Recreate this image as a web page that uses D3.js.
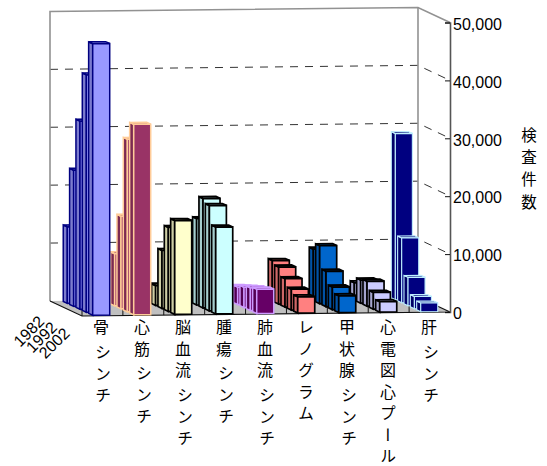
<!DOCTYPE html>
<html lang="ja">
<head>
<meta charset="utf-8">
<script src="https://cdnjs.cloudflare.com/ajax/libs/d3/7.8.5/d3.min.js"></script>
<style>
  html, body { margin: 0; padding: 0; background: #fff; }
  svg { display: block; }
  .num { font-family: "Liberation Sans", Arial, sans-serif; fill: #000; }
  .jp { font-family: "Noto Sans CJK JP", sans-serif; fill: #000; writing-mode: vertical-rl; }
</style>
</head>
<body>
<svg id="chart" width="547" height="466"></svg>
<script>
// Nuclear medicine examination counts by test type and survey year
const categories = ["骨シンチ", "心筋シンチ", "脳血流シンチ", "腫瘍シンチ", "肺血流シンチ", "レノグラム", "甲状腺シンチ", "心電図心プール", "肝シンチ"];
const years = ["1982", "1987", "1992", "1997", "2002"];
const labelledYears = ["1982", "1992", "2002"];
const yTicks = [0, 10000, 20000, 30000, 40000, 50000];
const axisTitle = "検査件数";

const counts1982 = [13200, 3500, 3000, 10400, 2600, 7000, 8900, 3000, 28700];
const counts1987 = [23500, 9000, 3400, 14900, 3000, 6400, 10000, 4000, 11200];
const counts1992 = [32500, 16000, 10000, 18900, 3500, 4900, 6100, 4300, 4900];
const counts1997 = [41000, 29800, 14500, 18200, 3900, 3600, 3900, 2900, 2100];
const counts2002 = [46900, 32900, 16200, 15000, 4200, 2800, 2900, 1800, 1500];
const seriesValues = [counts1982, counts1987, counts1992, counts1997, counts2002];

const fills = ["#9999FF", "#993366", "#FFFFCC", "#CCFFFF", "#660066", "#FF8080", "#0066CC", "#CCCCFF", "#000080"];
const strokes = ["#000080", "#FFCC99", "#000000", "#000000", "#CC99FF", "#000000", "#000000", "#000000", "#BFEFFF"];
const strokeWidths = [1.5, 1.5, 1.7, 1.7, 1.5, 1.7, 1.7, 1.7, 1.1];

const svg = d3.select("#chart");

// Oblique projection: a point is given by its front-plane x, depth and value
const x = d3.scaleBand().domain(categories).range([82, 451]).paddingInner(0.585).paddingOuter(0.292);
const xEdge = d3.scaleLinear().domain([0, categories.length]).range([82, 450]);
const depth = d3.scaleBand().domain(years.slice().reverse()).range([0, 32]).paddingInner(0.36).paddingOuter(0.2);
const rise = d3.scaleLinear().domain([0, 50000]).range([0, 289.5]);
const floorFront = d3.scaleLinear().domain([82, 450]).range([316, 312]);
const DEPTH_SLOPE = 0.47;

function project(px, z, v) {
  return [px - z, floorFront(px) - z * DEPTH_SLOPE - rise(v)];
}
const poly = pts => pts.map(p => p.map(n => n.toFixed(2)).join(",")).join(" ");

// Back wall, side wall and floor
const DEPTH = 32;
const xLeft = 82, xRight = 450, vTop = 50000;
svg.append("polygon")
  .attr("points", poly([project(xLeft, DEPTH, 0), project(xLeft, 0, 0), project(xRight, 0, 0), project(xRight, DEPTH, 0)]))
  .attr("fill", "#C0C0C0");

const gridValues = yTicks.filter(d => d > 0 && d < vTop);
const grid = svg.append("g").attr("fill", "none").attr("stroke", "#333").attr("stroke-dasharray", "8 7").attr("stroke-width", 1);
gridValues.forEach(v => {
  grid.append("path").attr("d", d3.line()([project(xLeft, DEPTH, v), project(xRight, DEPTH, v), project(xRight, 0, v)]));
});

const walls = svg.append("g").attr("fill", "none").attr("stroke", "#929292").attr("stroke-width", 1.6);
walls.append("path").attr("d", d3.line()([project(xLeft, DEPTH, 0), project(xLeft, DEPTH, vTop), project(xRight, DEPTH, vTop), project(xRight, 0, vTop)]));
walls.append("path").attr("d", d3.line()([project(xRight, DEPTH, vTop), project(xRight, DEPTH, 0)]));

// Floor edges and category ticks
const edges = svg.append("g").attr("fill", "none").attr("stroke", "#111").attr("stroke-width", 1.2);
edges.append("path").attr("d", d3.line()([project(xLeft, DEPTH, 0), project(xLeft, 0, 0), project(xRight, 0, 0), project(xRight, DEPTH, 0)]));
d3.range(0, categories.length).forEach(i => {
  const px = xEdge(i);
  const [a, b] = project(px, 0, 0);
  edges.append("line").attr("x1", a).attr("x2", a).attr("y1", b).attr("y2", b - 7).attr("stroke-width", 1);
});

// Columns, painted from the rear row forward
const bars = [];
years.forEach((year, k) => {
  categories.forEach((cat, c) => bars.push({ year, cat, c, value: seriesValues[k][c] }));
});

const barG = svg.selectAll("g.bar").data(bars).join("g").attr("class", "bar")
  .attr("stroke", d => strokes[d.c]).attr("stroke-width", d => strokeWidths[d.c]).attr("stroke-linejoin", "miter");

barG.each(function (d) {
  const g = d3.select(this);
  const x0 = x(d.cat), x1 = x0 + x.bandwidth();
  const z0 = depth(d.year), z1 = z0 + depth.bandwidth();
  const fill = fills[d.c];
  // side face
  g.append("polygon").attr("fill", d3.color(fill).darker(0.6).formatHex())
    .attr("points", poly([project(x0, z0, 0), project(x0, z1, 0), project(x0, z1, d.value), project(x0, z0, d.value)]));
  // top face
  g.append("polygon").attr("fill", d3.color(fill).darker(0.3).formatHex())
    .attr("points", poly([project(x0, z0, d.value), project(x0, z1, d.value), project(x1, z1, d.value), project(x1, z0, d.value)]));
  // front face
  g.append("polygon").attr("fill", fill)
    .attr("points", poly([project(x0, z0, 0), project(x1, z0, 0), project(x1, z0, d.value), project(x0, z0, d.value)]));
});

// Value axis on the front right corner
const yAxisScale = d3.scaleLinear().domain([0, 50000]).range([312, 312 - rise(50000)]);
const yAxis = svg.append("g").attr("transform", "translate(450,0)")
  .call(d3.axisRight(yAxisScale).tickValues(yTicks).tickFormat(d3.format(",")).tickSize(-5).tickPadding(3));
yAxis.select(".domain").attr("stroke", "#555").attr("stroke-width", 1.6);
yAxis.selectAll(".tick line").attr("stroke", "#111");
yAxis.selectAll("text").attr("class", "num").attr("font-size", 16).attr("dy", "0.42em");
yAxis.attr("font-family", null).attr("font-size", null);

// Year labels along the left floor edge
svg.selectAll("text.year").data(labelledYears).join("text")
  .attr("class", "year num")
  .attr("font-size", 16)
  .attr("text-anchor", "end")
  .attr("transform", d => {
    const [a, b] = project(xLeft, depth(d) + depth.bandwidth() / 2, 0);
    return `translate(${a - 8},${b + 20}) rotate(-45)`;
  })
  .text(d => d);

// Vertical category names; the シンチ suffix sits a little apart from the kanji
const labelTop = 319;
const suffix = "シンチ";
const catText = svg.selectAll("text.cat").data(categories).join("text")
  .attr("class", "cat jp")
  .attr("font-size", 16)
  .attr("letter-spacing", 5.5)
  .attr("x", d => x(d) + 7)
  .attr("y", labelTop);
catText.each(function (d) {
  const t = d3.select(this);
  if (d.endsWith(suffix)) {
    t.append("tspan").text(d.slice(0, -suffix.length));
    t.append("tspan").attr("dx", 2).attr("dy", 3).text(suffix.slice(0, -1));
    t.append("tspan").attr("letter-spacing", 0).text(suffix.slice(-1));
  } else {
    t.append("tspan").text(d.slice(0, -1));
    t.append("tspan").attr("letter-spacing", 0).text(d.slice(-1));
  }
});

svg.append("text").attr("class", "jp")
  .attr("font-size", 15.5)
  .attr("letter-spacing", 6.8)
  .attr("x", 529).attr("y", 127)
  .text(axisTitle);
</script>
</body>
</html>
